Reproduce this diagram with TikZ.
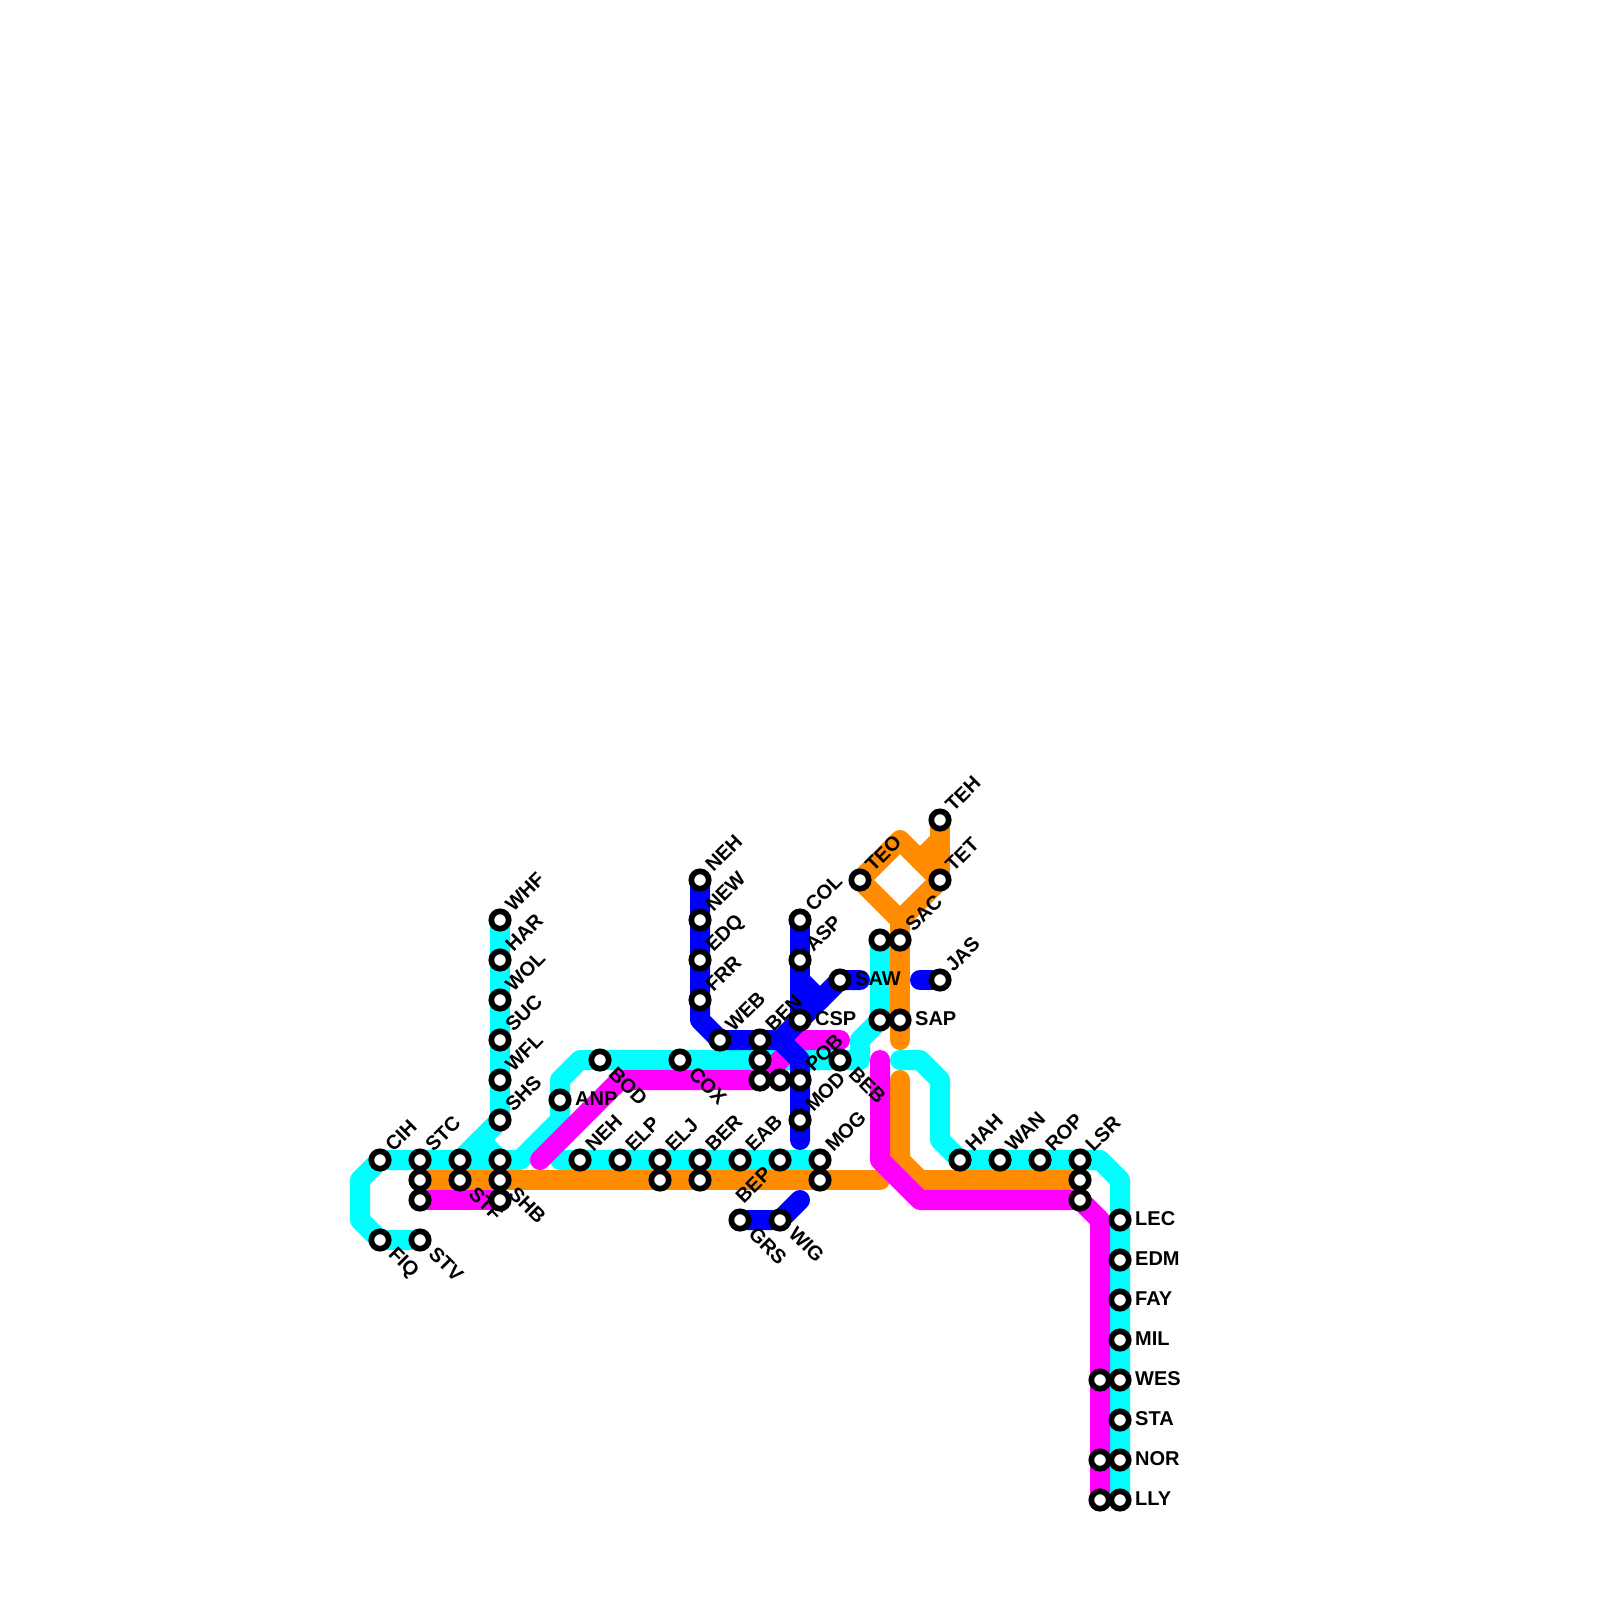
\documentclass[tikz,border=0pt]{standalone}
\usepackage{fontspec}
\setmainfont{Liberation Sans}
\pgfdeclarelayer{lines}
\pgfdeclarelayer{labels}
\pgfsetlayers{lines,labels,main}
\newcommand\sta[2]{\node[stn] (#1) at (#2) {};}
\newcommand\lab[3]{\begin{pgfonlayer}{labels}\node[#2] (l#1) at (#1.center) {#3};\end{pgfonlayer}}
\tikzset{
  stn/.style={circle,draw=black,fill=white,line width=5.7pt,minimum size=17.4pt,inner sep=0pt},
  txt/.style={font=\bfseries\fontsize{20}{20}\selectfont,inner sep=0pt,text height=14.3pt,text depth=3pt,text=black},
  ur/.style={txt,xshift=9.5pt,yshift=11pt,rotate=45,anchor=west},
  dr/.style={txt,xshift=11.5pt,yshift=-11pt,rotate=-45,anchor=west},
  dl/.style={txt,xshift=-11pt,yshift=-11pt,rotate=45,anchor=east},
  rt/.style={txt,xshift=15pt,anchor=west},
  metro/.style={line width=20pt,line cap=round,line join=round},
  cy/.style={metro,draw={rgb,255:red,0;green,255;blue,255}},
  mg/.style={metro,draw={rgb,255:red,255;green,0;blue,255}},
  bl/.style={metro,draw={rgb,255:red,0;green,0;blue,255}},
  og/.style={metro,draw={rgb,255:red,255;green,140;blue,0}},
}
\begin{document}
\begin{tikzpicture}[x=1pt,y=-1pt]
\useasboundingbox (0,0) rectangle (1600,1600);
% stations
\sta{WHF}{500,920}\sta{HAR}{500,960}\sta{WOL}{500,1000}\sta{SUC}{500,1040}\sta{WFL}{500,1080}\sta{SHS}{500,1120}
\sta{CIH}{380,1160}\sta{STC}{420,1160}\sta{Ua}{420,1180}\sta{Ub}{420,1200}
\sta{Uc}{460,1160}\sta{STF}{460,1180}
\sta{Ud}{500,1160}\sta{SHB}{500,1180}\sta{Ue}{500,1200}
\sta{FIQ}{380,1240}\sta{STV}{420,1240}
\sta{ANP}{560,1100}\sta{BOD}{600,1060}\sta{COX}{680,1060}
\sta{NEHa}{580,1160}\sta{ELP}{620,1160}\sta{ELJ}{660,1160}\sta{Uf}{660,1180}
\sta{BER}{700,1160}\sta{Ug}{700,1180}\sta{EAB}{740,1160}\sta{BEP}{780,1160}
\sta{MOG}{820,1160}\sta{Uh}{820,1180}
\sta{GRS}{740,1220}\sta{WIG}{780,1220}
\sta{NEHb}{700,880}\sta{NEW}{700,920}\sta{EDQ}{700,960}\sta{FRR}{700,1000}
\sta{WEB}{720,1040}\sta{BEN}{760,1040}\sta{Ui}{760,1060}\sta{Uj}{760,1080}\sta{Uk}{780,1080}
\sta{POB}{800,1080}\sta{MOD}{800,1120}
\sta{COL}{800,920}\sta{ASP}{800,960}\sta{CSP}{800,1020}\sta{SAW}{840,980}\sta{BEB}{840,1060}
\sta{TEO}{860,880}\sta{TEH}{940,820}\sta{TET}{940,880}
\sta{Ul}{880,940}\sta{SAC}{900,940}\sta{Um}{880,1020}\sta{SAP}{900,1020}\sta{JAS}{940,980}
\sta{HAH}{960,1160}\sta{WAN}{1000,1160}\sta{ROP}{1040,1160}\sta{LSR}{1080,1160}\sta{Un}{1080,1180}\sta{Uo}{1080,1200}
\sta{LEC}{1120,1220}\sta{EDM}{1120,1260}\sta{FAY}{1120,1300}\sta{MIL}{1120,1340}\sta{WES}{1120,1380}\sta{STA}{1120,1420}\sta{NOR}{1120,1460}\sta{LLY}{1120,1500}
\sta{Up}{1100,1380}\sta{Uq}{1100,1460}\sta{Ur}{1100,1500}
% labels
\lab{WHF}{ur}{WHF}\lab{HAR}{ur}{HAR}\lab{WOL}{ur}{WOL}\lab{SUC}{ur}{SUC}\lab{WFL}{ur}{WFL}\lab{SHS}{ur}{SHS}
\lab{CIH}{ur}{CIH}\lab{STC}{ur}{STC}\lab{STF}{dr}{STF}\lab{SHB}{dr}{SHB}\lab{FIQ}{dr}{FIQ}\lab{STV}{dr}{STV}
\lab{ANP}{rt}{ANP}\lab{BOD}{dr}{BOD}\lab{COX}{dr}{COX}
\lab{NEHa}{ur}{NEH}\lab{ELP}{ur}{ELP}\lab{ELJ}{ur}{ELJ}\lab{BER}{ur}{BER}\lab{EAB}{ur}{EAB}\lab{BEP}{dl}{BEP}\lab{MOG}{ur}{MOG}
\lab{GRS}{dr}{GRS}\lab{WIG}{dr}{WIG}
\lab{NEHb}{ur}{NEH}\lab{NEW}{ur}{NEW}\lab{EDQ}{ur}{EDQ}\lab{FRR}{ur}{FRR}\lab{WEB}{ur}{WEB}\lab{BEN}{ur}{BEN}
\lab{POB}{ur}{POB}\lab{MOD}{ur}{MOD}\lab{COL}{ur}{COL}\lab{ASP}{ur}{ASP}\lab{CSP}{rt}{CSP}\lab{SAW}{rt}{SAW}\lab{BEB}{dr}{BEB}
\lab{TEO}{ur}{TEO}\lab{TEH}{ur}{TEH}\lab{TET}{ur}{TET}\lab{SAC}{ur}{SAC}\lab{SAP}{rt}{SAP}\lab{JAS}{ur}{JAS}
\lab{HAH}{ur}{HAH}\lab{WAN}{ur}{WAN}\lab{ROP}{ur}{ROP}\lab{LSR}{ur}{LSR}
\lab{LEC}{rt}{LEC}\lab{EDM}{rt}{EDM}\lab{FAY}{rt}{FAY}\lab{MIL}{rt}{MIL}\lab{WES}{rt}{WES}\lab{STA}{rt}{STA}\lab{NOR}{rt}{NOR}\lab{LLY}{rt}{LLY}
% way points
\coordinate (c1) at (480,1140);\coordinate (c2) at (520,1160);\coordinate (c3) at (560,1120);\coordinate (c4) at (560,1080);
\coordinate (c5) at (580,1060);\coordinate (c6) at (860,1060);\coordinate (c7) at (860,1040);
\coordinate (c8) at (360,1180);\coordinate (c9) at (360,1220);\coordinate (c10) at (560,1160);
\coordinate (c11) at (900,1060);\coordinate (c12) at (920,1060);\coordinate (c13) at (940,1080);\coordinate (c14) at (940,1140);
\coordinate (c15) at (1100,1160);\coordinate (c16) at (1120,1180);
\coordinate (m1) at (840,1040);\coordinate (m2) at (800,1040);\coordinate (m3) at (620,1080);\coordinate (m4) at (540,1160);
\coordinate (m5) at (880,1060);\coordinate (m6) at (880,1160);\coordinate (m7) at (920,1200);\coordinate (m8) at (1100,1220);
\coordinate (o1) at (880,1180);\coordinate (o2) at (900,840);\coordinate (o3) at (900,920);\coordinate (o4) at (900,1040);
\coordinate (o5) at (940,840);\coordinate (o6) at (920,860);\coordinate (o7) at (900,1080);\coordinate (o8) at (900,1160);\coordinate (o9) at (920,1180);
\coordinate (b1) at (700,1020);\coordinate (b2) at (780,1040);\coordinate (b3) at (800,1060);\coordinate (b4) at (800,1140);
\coordinate (b5) at (860,980);\coordinate (b6) at (800,980);\coordinate (b7) at (820,1000);\coordinate (b8) at (920,980);\coordinate (b9) at (800,1200);
% lines
\begin{pgfonlayer}{lines}
\fill[white] (0,0) rectangle (1600,1600);
\draw[cy] (WHF.center) -- (SHS.center) -- (c1) -- (Uc.center);
\draw[cy] (c1) -- (Ud.center);
\draw[cy] (FIQ.center) -- (STV.center);
\draw[cy] (CIH.center) -- (c8) -- (c9) -- (FIQ.center);
\draw[cy] (CIH.center) -- (c2) -- (c3) -- (c4) -- (c5) -- (c6) -- (c7) -- (Um.center) -- (Ul.center);
\draw[cy] (c10) -- (MOG.center);
\draw[cy] (c11) -- (c12) -- (c13) -- (c14) -- (HAH.center) -- (c15) -- (c16) -- (LLY.center);
\draw[og] (Ua.center) -- (o1);
\draw[og] (TEO.center) -- (o2) -- (TET.center) -- (o3) -- cycle;
\draw[og] (TEH.center) -- (TET.center);
\draw[og] (o5) -- (o6);
\draw[og] (o3) -- (o4);
\draw[og] (o7) -- (o8) -- (o9) -- (Un.center);
\draw[mg] (Ub.center) -- (Ue.center);
\draw[mg] (m1) -- (m2) -- (Uj.center) -- (m3) -- (m4);
\draw[mg] (m5) -- (m6) -- (m7) -- (Uo.center) -- (m8) -- (Ur.center);
\draw[bl] (NEHb.center) -- (b1) -- (WEB.center) -- (b2) -- (b3) -- (b4);
\draw[bl] (b5) -- (SAW.center) -- (b2);
\draw[bl] (COL.center) -- (CSP.center);
\draw[bl] (b6) -- (b7);
\draw[bl] (b8) -- (JAS.center);
\draw[bl] (GRS.center) -- (WIG.center) -- (b9);
\end{pgfonlayer}
\end{tikzpicture}
\end{document}
